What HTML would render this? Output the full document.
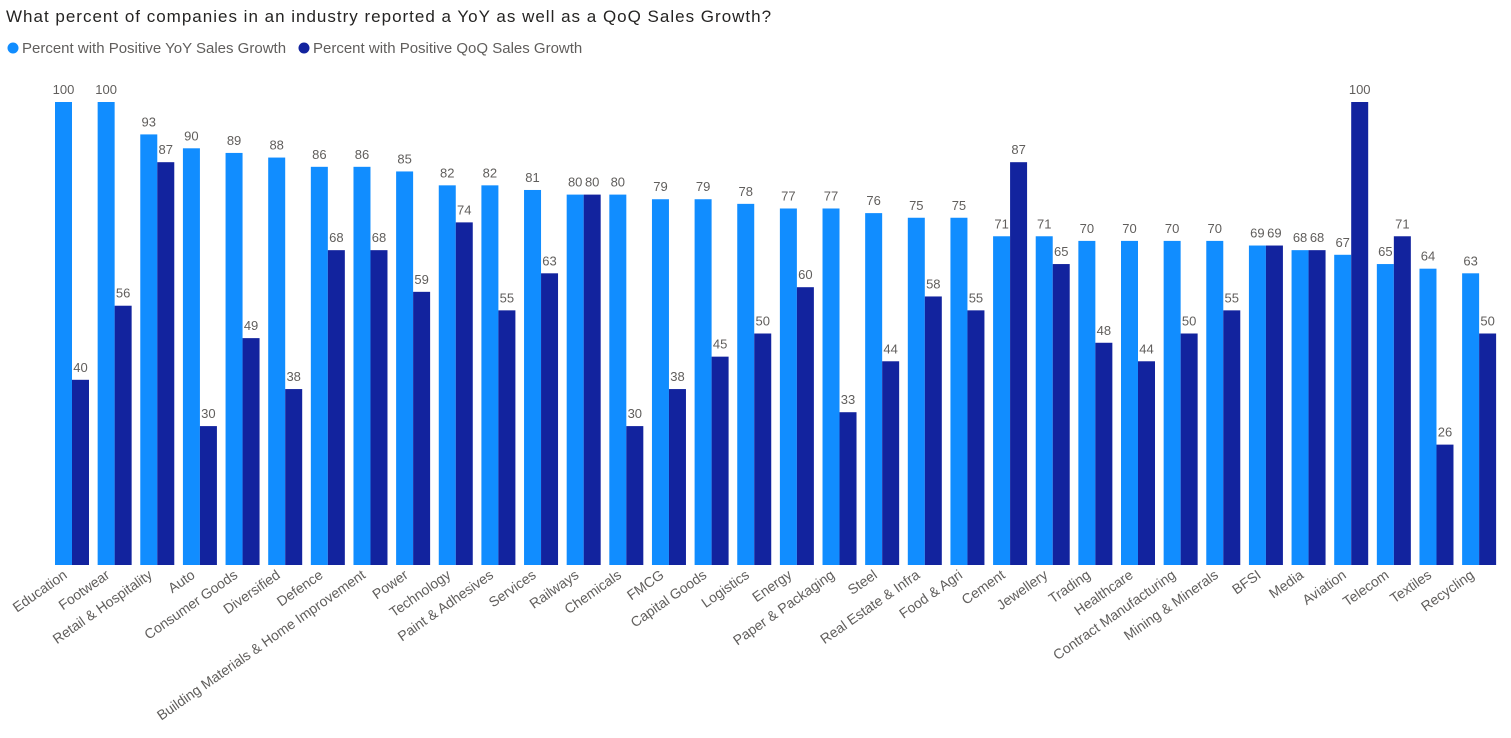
<!DOCTYPE html>
<html><head><meta charset="utf-8"><style>
body{margin:0;background:#fff;font-family:"Liberation Sans",sans-serif;}
svg{display:block}
</style></head><body>
<svg id="chart" width="1511" height="738">
<text x="6" y="22" font-size="17" letter-spacing="1" fill="#252423">What percent of companies in an industry reported a YoY as well as a QoQ Sales Growth?</text>
<g>
<circle cx="13" cy="48" r="5.5" fill="#118DFF"/>
<text x="22" y="53" font-size="15" fill="#605E5C">Percent with Positive YoY Sales Growth</text>
<circle cx="304" cy="48" r="5.5" fill="#12239E"/>
<text x="313" y="53" font-size="15" fill="#605E5C">Percent with Positive QoQ Sales Growth</text>
</g>
<g id="bars"></g>
</svg>
<script>
const categories=["Education","Footwear","Retail & Hospitality","Auto","Consumer Goods","Diversified","Defence","Building Materials & Home Improvement","Power","Technology","Paint & Adhesives","Services","Railways","Chemicals","FMCG","Capital Goods","Logistics","Energy","Paper & Packaging","Steel","Real Estate & Infra","Food & Agri","Cement","Jewellery","Trading","Healthcare","Contract Manufacturing","Mining & Minerals","BFSI","Media","Aviation","Telecom","Textiles","Recycling"];
const yoyValues=[100,100,93,90,89,88,86,86,85,82,82,81,80,80,79,79,78,77,77,76,75,75,71,71,70,70,70,70,69,68,67,65,64,63];
const qoqValues=[40,56,87,30,49,38,68,68,59,74,55,63,80,30,38,45,50,60,33,44,58,55,87,65,48,44,50,55,69,68,100,71,26,50];
const NS="http://www.w3.org/2000/svg";
const g=document.getElementById('bars');
const baseY=565, topY=102, x0=55, pitch=42.64, bw=17;
function yScale(v){return baseY-(baseY-topY)*v/100;}
function xScale(i){return x0+i*pitch;}
function mk(tag,attrs){const e=document.createElementNS(NS,tag);for(const k in attrs)e.setAttribute(k,attrs[k]);return e;}
categories.forEach((c,i)=>{
  const x=xScale(i);
  [[yoyValues[i],'#118DFF',0,'yoy'],[qoqValues[i],'#12239E',bw,'qoq']].forEach(([v,col,off,s])=>{
    const r=mk('rect',{x:x+off,y:yScale(v),width:bw,height:baseY-yScale(v),fill:col});
    
    
    g.appendChild(r);
    const t=mk('text',{x:x+off+bw/2,y:yScale(v)-8,'font-size':13,fill:'#605E5C','text-anchor':'middle'});
    t.textContent=v;
    
    
    g.appendChild(t);
  });
  const cx=x+bw-4, cy=577;
  const lab=mk('text',{x:cx,y:cy,'font-size':14,fill:'#605E5C','text-anchor':'end',transform:`rotate(-35 ${cx} ${cy})`});
  lab.textContent=c;
  
  
  g.appendChild(lab);
});
</script>
</body></html>
